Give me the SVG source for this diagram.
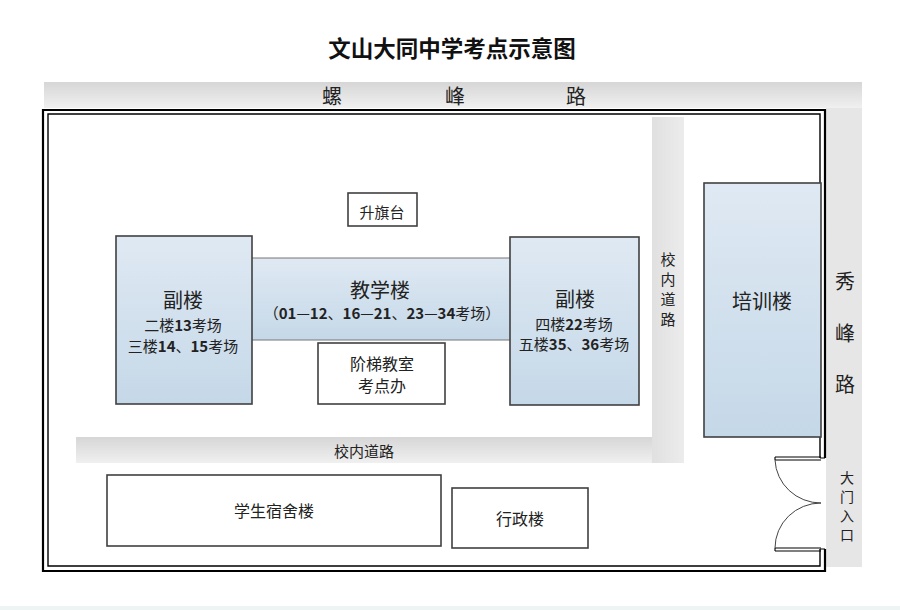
<svg xmlns="http://www.w3.org/2000/svg" width="900" height="610" viewBox="0 0 900 610">
<defs>
<linearGradient id="blue" x1="0" y1="0" x2="0" y2="1">
<stop offset="0" stop-color="#dfe9f3"/>
<stop offset="1" stop-color="#c5d8e8"/>
</linearGradient>
<linearGradient id="grayV" x1="0" y1="0" x2="0" y2="1">
<stop offset="0" stop-color="#d6d6d6"/>
<stop offset="1" stop-color="#f0f0f0"/>
</linearGradient>
<linearGradient id="grayH" x1="0" y1="0" x2="1" y2="0">
<stop offset="0" stop-color="#e0e0e0"/>
<stop offset="1" stop-color="#ececec"/>
</linearGradient>
<style>
text{font-family:"Noto Sans CJK SC","Noto Sans",sans-serif;fill:#222;dominant-baseline:central;text-anchor:middle}
.bld{stroke:#404040;stroke-width:1.6}
.wb{fill:#fff}
.bl{fill:url(#blue)}
.t14{font-size:14px}
.t15{font-size:15px}
.t16{font-size:16px}
.t20{font-size:20px}
.b{font-weight:bold}
.wall{fill:none;stroke:#000}
</style>
</defs>
<rect width="900" height="610" fill="#fff"/>
<rect x="0" y="606" width="900" height="4" fill="#eef3f4"/>
<text id="title" x="452" y="47" style="font-size:22.5px;font-weight:bold;fill:#111">文山大同中学考点示意图</text>

<g id="road-top">
<rect x="44" y="82" width="818" height="26" fill="url(#grayV)"/>
<text class="t20" x="332" y="95">螺</text>
<text class="t20" x="455" y="95">峰</text>
<text class="t20" x="576" y="95">路</text>
</g>
<g id="road-right">
<rect x="826" y="108" width="36" height="459" fill="#e6e6e6"/>
<text class="t20" x="845" y="280">秀</text>
<text class="t20" x="845" y="332">峰</text>
<text class="t20" x="845" y="383">路</text>
<text class="t14" x="847" y="477">大</text>
<text class="t14" x="847" y="496">门</text>
<text class="t14" x="847" y="515">入</text>
<text class="t14" x="847" y="534">口</text>
</g>

<g id="walls">
<path class="wall" stroke-width="2.2" d="M825,458 V110 H43 V571 H825 V549"/>
<path class="wall" stroke-width="1.4" d="M820,458 V114 H48 V566 H820 V549"/>
<path class="wall" stroke-width="1.2" d="M820,458 H825 M820,549 H825"/>
</g>

<g id="gate">
<path fill="none" stroke="#000" stroke-width="1.1" d="M775,457 H821 M775,460 H821 M775,457 V460 M775,548 H821 M775,551 H821 M775,548 V551"/>
<path fill="none" stroke="#444" stroke-width="1" d="M775,460 A46,45 0 0 0 821,503 M775,548 A46,45 0 0 1 821,503"/>
</g>

<g id="road-inner-v">
<rect x="652" y="117" width="32" height="346" fill="url(#grayH)"/>
<text class="t15" x="668" y="258">校</text>
<text class="t15" x="668" y="278">内</text>
<text class="t15" x="668" y="298">道</text>
<text class="t15" x="668" y="318">路</text>
</g>
<g id="road-inner-h">
<rect x="76" y="437" width="576" height="26" fill="url(#grayV)"/>
<text class="t15" x="364" y="450">校内道路</text>
</g>

<g id="flag">
<rect class="bld wb" x="348" y="193" width="69" height="33" stroke-width="1.3"/>
<text class="t15" x="382" y="211">升旗台</text>
</g>

<g id="main-building">
<rect x="240" y="258" width="280" height="82" fill="url(#blue)" stroke="#777" stroke-width="1"/>
<text class="t20" x="380" y="289">教学楼</text>
<text class="t15" x="382" y="312">（<tspan class="b">01</tspan>—<tspan class="b">12</tspan>、<tspan class="b">16</tspan>—<tspan class="b">21</tspan>、<tspan class="b">23</tspan>—<tspan class="b">34</tspan>考场）</text>
</g>

<g id="annex-left">
<rect class="bld bl" x="116" y="236" width="136" height="168"/>
<text class="t20" x="183" y="299">副楼</text>
<text class="t15" x="183" y="324">二楼<tspan class="b">13</tspan>考场</text>
<text class="t15" x="183" y="345">三楼<tspan class="b">14</tspan>、<tspan class="b">15</tspan>考场</text>
</g>

<g id="annex-right">
<rect class="bld bl" x="510" y="237" width="129" height="168"/>
<text class="t20" x="575" y="298">副楼</text>
<text class="t15" x="574" y="323">四楼<tspan class="b">22</tspan>考场</text>
<text class="t15" x="574" y="343">五楼<tspan class="b">35</tspan>、<tspan class="b">36</tspan>考场</text>
</g>

<g id="lecture-hall">
<rect class="bld wb" x="318" y="343" width="127" height="61" stroke-width="1.3"/>
<text class="t16" x="382" y="363">阶梯教室</text>
<text class="t16" x="382" y="385">考点办</text>
</g>

<g id="training-building">
<rect class="bld bl" x="704" y="183" width="117" height="254"/>
<text class="t20" x="762" y="300">培训楼</text>
</g>

<g id="dormitory">
<rect class="bld wb" x="107" y="475" width="334" height="71"/>
<text class="t16" x="274" y="510">学生宿舍楼</text>
</g>

<g id="admin">
<rect class="bld wb" x="452" y="488" width="136" height="60"/>
<text class="t16" x="520" y="518">行政楼</text>
</g>
</svg>
